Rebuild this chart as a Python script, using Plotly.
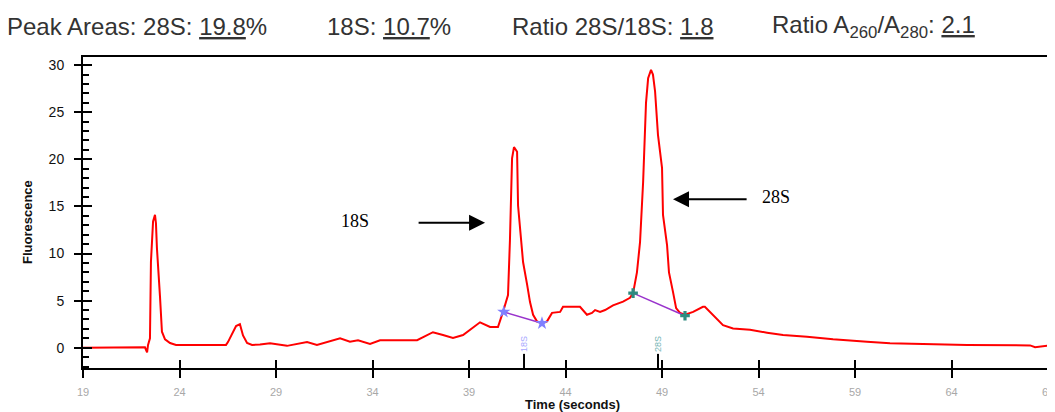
import plotly.graph_objects as go

# ---- data ----
time_s = [19.0, 22.21, 22.32, 22.37, 22.47, 22.52, 22.63, 22.73, 22.78, 22.83, 22.99, 23.09,
          23.25, 23.51, 23.82, 26.41, 26.51, 26.93, 27.13, 27.29, 27.50, 27.76, 28.17, 28.69,
          29.57, 30.61, 31.12, 32.32, 32.83, 33.25, 33.87, 34.39, 36.31, 37.13, 37.65, 38.17,
          38.69, 39.57, 40.09, 40.50, 40.76, 41.02, 41.12, 41.23, 41.33, 41.49, 41.54, 41.69,
          41.80, 42.01, 42.16, 42.32, 42.52, 42.78, 43.04, 43.30, 43.72, 43.87, 44.75, 45.11,
          45.37, 45.53, 45.79, 46.05, 46.46, 46.98, 47.34, 47.50, 47.70, 47.86, 48.02, 48.17,
          48.28, 48.43, 48.53, 48.64, 48.79, 49.00, 49.05, 49.26, 49.36, 49.57, 49.73, 49.93,
          50.19, 50.61, 51.12, 51.22, 51.64, 52.16, 52.68, 53.56, 54.44, 55.27, 56.51, 57.86,
          59.62, 60.81, 64.80, 68.07, 68.33, 69.36]
fluor = [0.0, 0.05, -0.5, 0.3, 1.0, 9.1, 13.4, 14.1, 13.2, 10.6, 5.4, 1.7,
         0.9, 0.5, 0.3, 0.3, 0.6, 2.3, 2.5, 1.3, 0.5, 0.3, 0.35, 0.47,
         0.2, 0.6, 0.3, 1.0, 0.65, 0.8, 0.4, 0.8, 0.8, 1.65, 1.35, 1.05,
         1.35, 2.7, 2.2, 2.2, 3.8, 5.6, 11.4, 20.1, 21.3, 20.8, 15.1, 11.6,
         9.1, 6.7, 4.85, 3.5, 2.8, 2.6, 2.8, 3.7, 3.8, 4.35, 4.35, 3.5,
         3.7, 4.0, 3.8, 4.0, 4.5, 4.9, 5.3, 5.8, 8.0, 11.2, 17.6, 26.0,
         28.6, 29.5, 29.0, 27.2, 22.6, 19.1, 14.1, 10.9, 8.0, 5.9, 4.2, 3.7,
         3.5, 3.8, 4.35, 4.35, 3.5, 2.4, 2.05, 1.9, 1.6, 1.35, 1.17, 0.9,
         0.64, 0.47, 0.29, 0.25, 0.05, 0.3]

peak18_bounds_t = [40.80, 42.78]
peak18_bounds_f = [3.8, 2.6]
peak28_bounds_t = [47.50, 50.19]
peak28_bounds_f = [5.8, 3.4]
peak_label_t = [41.85, 48.79]
peak_labels = ["18S", "28S"]
peak_label_colors = ["#a8a8ff", "#77b5b5"]

x_ticks = [19, 24, 29, 34, 39, 44, 49, 54, 59, 64, 69]
X_RANGE = [19, 69.36]
Y_RANGE = [-2.15, 30.86]

# page offset (default body margin of the html page)
OFF = 8
FIG_W, FIG_H = 1055 - OFF, 412 - OFF
# plot area in page pixels
L, R, T, B = 83, 1055, 57, 368
Lf, Rf, Tf, Bf = L - OFF, R - OFF, T - OFF, B - OFF


def px_x(p):
    return (p - L) / (R - L)


def px_y(p):
    return (B - p) / (B - T)


fig = go.Figure()
fig.add_trace(go.Scatter(x=time_s, y=fluor, mode="lines",
                         line=dict(color="#ff0000", width=2), hoverinfo="skip"))
fig.add_trace(go.Scatter(x=peak18_bounds_t, y=peak18_bounds_f, mode="lines",
                         line=dict(color="#9933cc", width=1.5)))
fig.add_trace(go.Scatter(x=peak28_bounds_t, y=peak28_bounds_f, mode="lines",
                         line=dict(color="#9933cc", width=1.5)))
fig.add_trace(go.Scatter(x=peak18_bounds_t, y=peak18_bounds_f, mode="markers",
                         marker=dict(symbol="star", size=10, color="#8080ff")))
fig.add_trace(go.Scatter(x=peak28_bounds_t, y=peak28_bounds_f, mode="markers",
                         marker=dict(symbol="cross", size=8, color="#2e8b80")))
# peak position ticks from the axis
for t in peak_label_t:
    fig.add_trace(go.Scatter(x=[t, t], y=[Y_RANGE[0], -0.65], mode="lines",
                             line=dict(color="black", width=2)))
# invisible trace for overlay axes (crossing ticks)
fig.add_trace(go.Scatter(x=[X_RANGE[0]], y=[0], xaxis="x2", yaxis="y2", mode="markers",
                         marker=dict(opacity=0), hoverinfo="skip"))

fig.update_layout(
    width=FIG_W, height=FIG_H,
    margin=dict(l=Lf, r=FIG_W - Rf, t=Tf, b=FIG_H - Bf, autoexpand=False),
    plot_bgcolor="white", paper_bgcolor="white", showlegend=False,
    font=dict(family="Liberation Sans"),
    xaxis=dict(range=X_RANGE, tickmode="array", tickvals=x_ticks,
               ticks="outside", ticklen=8, tickwidth=2, tickcolor="black",
               showline=True, linewidth=2, linecolor="black", mirror=True,
               showgrid=False, zeroline=False, ticklabelstandoff=5,
               tickfont=dict(size=11, color="#a8a8a8")),
    xaxis2=dict(range=X_RANGE, overlaying="x", anchor="y", side="bottom",
                tickmode="array", tickvals=x_ticks, ticks="inside", ticklen=8,
                tickwidth=2, tickcolor="black", showticklabels=False,
                showline=False, showgrid=False, zeroline=False),
    yaxis=dict(range=Y_RANGE, tick0=0, dtick=5, ticks="outside", ticklen=7,
               tickwidth=2, tickcolor="black", showline=True, linewidth=2,
               linecolor="black", showgrid=False, zeroline=False,
               ticklabelstandoff=7, tickfont=dict(size=14, color="#111111"),
               minor=dict(tick0=0, dtick=1, ticks="inside", ticklen=6,
                          tickwidth=1.5, tickcolor="black", showgrid=False)),
    yaxis2=dict(range=Y_RANGE, overlaying="y", anchor="x", side="left",
                tick0=0, dtick=5, ticks="inside", ticklen=9, tickwidth=2,
                tickcolor="black", showticklabels=False, showline=False,
                showgrid=False, zeroline=False),
)

ann = []
title_parts = [
    (5, "Peak Areas: 28S: <u>19.8</u>%"),
    (325, "18S: <u>10.7</u>%"),
    (510, "Ratio 28S/18S: <u>1.8</u>"),
    (770, "Ratio A<sub>260</sub>/A<sub>280</sub>: <u>2.1</u>"),
]
for xp, txt in title_parts:
    ann.append(dict(x=px_x(xp), y=px_y(26), xref="paper", yref="paper", text=txt,
                    xanchor="left", yanchor="middle", showarrow=False,
                    font=dict(size=24, color="#333333", family="Liberation Sans")))
# axis titles
ann.append(dict(x=px_x(572), y=px_y(404), xref="paper", yref="paper",
                text="<b>Time (seconds)</b>", showarrow=False, xanchor="center",
                yanchor="middle", font=dict(size=13, color="#111111")))
ann.append(dict(x=px_x(27), y=px_y(222), xref="paper", yref="paper",
                text="<b>Fluorescence</b>", showarrow=False, textangle=-90,
                xanchor="center", yanchor="middle", font=dict(size=13, color="#111111")))
# peak labels with arrows
ann.append(dict(x=px_x(355), y=px_y(221), xref="paper", yref="paper", text="18S",
                xanchor="center", yanchor="middle", showarrow=False,
                font=dict(size=18, family="Liberation Serif", color="black")))
ann.append(dict(x=px_x(776), y=px_y(197), xref="paper", yref="paper", text="28S",
                xanchor="center", yanchor="middle", showarrow=False,
                font=dict(size=18, family="Liberation Serif", color="black")))
ann.append(dict(x=39.83, y=13.27, xref="x", yref="y", ax=36.31, ay=13.27,
                axref="x", ayref="y", text="", showarrow=True, arrowhead=2,
                arrowsize=1.6, arrowwidth=2, arrowcolor="black"))
ann.append(dict(x=49.57, y=15.75, xref="x", yref="y", ax=53.46, ay=15.75,
                axref="x", ayref="y", text="", showarrow=True, arrowhead=2,
                arrowsize=1.6, arrowwidth=2, arrowcolor="black"))
for t, lab, col in zip(peak_label_t, peak_labels, peak_label_colors):
    ann.append(dict(x=t, y=0.4, xref="x", yref="y", text=lab, showarrow=False,
                    textangle=-90, font=dict(size=9, color=col)))
fig.update_layout(annotations=ann)

fig.write_html("out.html")
